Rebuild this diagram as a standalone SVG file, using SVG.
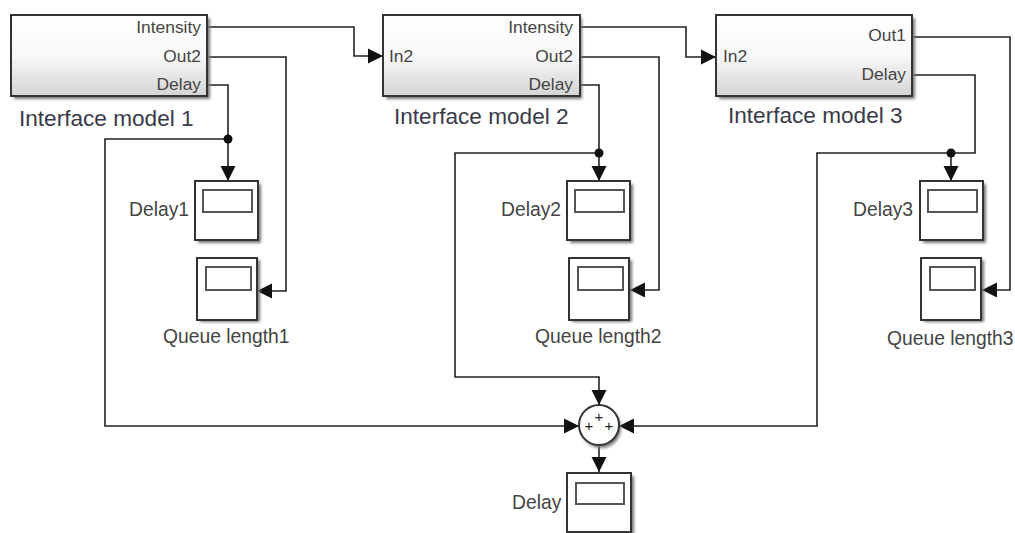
<svg xmlns="http://www.w3.org/2000/svg" width="1015" height="533" viewBox="0 0 1015 533">
<defs>
<linearGradient id="g" x1="0" y1="0" x2="0" y2="1"><stop offset="0" stop-color="#ffffff"/><stop offset="0.5" stop-color="#f8f8f8"/><stop offset="1" stop-color="#d4d4d4"/></linearGradient>
<filter id="s" x="-20%" y="-20%" width="140%" height="140%"><feGaussianBlur stdDeviation="1.8"/></filter>
<marker id="a" markerUnits="userSpaceOnUse" markerWidth="16" markerHeight="16" refX="15" refY="8" orient="auto"><path d="M0 0.5L15 8L0 15.5Z" fill="#111"/></marker>
</defs>
<style>
text{font-family:"Liberation Sans",Arial,sans-serif;fill:#444}
.p{font-size:17.4px;text-anchor:end}
.i{font-size:17.4px}
.t{font-size:22.6px;fill:#3a3a4a}
.l{font-size:19.3px}
.c{fill:none;stroke:#222;stroke-width:1.6}
.b{fill:url(#g);stroke:#333;stroke-width:2}
.sh{fill:#777;filter:url(#s)}
.sc{fill:#fff;stroke:#333;stroke-width:2}
.w{fill:#fff;stroke:#555;stroke-width:2}
.plus{font-size:15px;text-anchor:middle;fill:#222}
</style>
<rect width="1015" height="533" fill="#fff"/>
<g id="connectors">
<path class="c" d="M208 27H354V56H383" marker-end="url(#a)"/>
<path class="c" d="M208 57H286V291H257" marker-end="url(#a)"/>
<path class="c" d="M208 85H228V181" marker-end="url(#a)"/>
<path class="c" d="M228 139H105V426H579" marker-end="url(#a)"/>
<path class="c" d="M581 27H686V57H716" marker-end="url(#a)"/>
<path class="c" d="M581 57H659V290H630" marker-end="url(#a)"/>
<path class="c" d="M581 85H599V181" marker-end="url(#a)"/>
<path class="c" d="M599 153H455V377H599V405" marker-end="url(#a)"/>
<path class="c" d="M913 37H1010V290H982" marker-end="url(#a)"/>
<path class="c" d="M913 75H975V153H951V181" marker-end="url(#a)"/>
<path class="c" d="M951 153H817V426H619" marker-end="url(#a)"/>
<path class="c" d="M599 446V472" marker-end="url(#a)"/>
<circle cx="228" cy="139" r="4.5" fill="#111"/>
<circle cx="599" cy="153" r="4.5" fill="#111"/>
<circle cx="951" cy="153" r="4.5" fill="#111"/>
</g>
<g id="model1"><rect class="sh" x="14" y="18" width="196" height="81"/><rect class="b" x="11" y="15" width="196" height="81"/>
<text class="p" x="201" y="33">Intensity</text><text class="p" x="201" y="62">Out2</text><text class="p" x="201" y="90">Delay</text>
<text class="t" x="19" y="126">Interface model 1</text></g>
<g id="model2"><rect class="sh" x="386" y="18" width="196" height="81"/><rect class="b" x="383" y="15" width="197" height="81"/>
<text class="i" x="389" y="62">In2</text><text class="p" x="573" y="33">Intensity</text><text class="p" x="573" y="62">Out2</text><text class="p" x="573" y="90">Delay</text>
<text class="t" x="394" y="124">Interface model 2</text></g>
<g id="model3"><rect class="sh" x="719" y="18" width="196" height="81"/><rect class="b" x="716" y="15" width="196" height="81"/>
<text class="i" x="723" y="62">In2</text><text class="p" x="906" y="41">Out1</text><text class="p" x="906" y="80">Delay</text>
<text class="t" x="728" y="123">Interface model 3</text></g>
<g id="delay1"><rect class="sh" x="198" y="184" width="63" height="59"/><rect class="sc" x="195" y="181" width="63" height="59"/><rect class="w" x="203" y="190" width="49" height="22"/><text class="l" x="129" y="216">Delay1</text></g>
<g id="queue1"><rect class="sh" x="200" y="260" width="60" height="62"/><rect class="sc" x="197" y="258" width="60" height="62"/><rect class="w" x="206" y="267" width="45" height="23"/><text class="l" x="163" y="343">Queue length1</text></g>
<g id="delay2"><rect class="sh" x="570" y="184" width="63" height="59"/><rect class="sc" x="567" y="181" width="63" height="59"/><rect class="w" x="575" y="190" width="49" height="22"/><text class="l" x="501" y="216">Delay2</text></g>
<g id="queue2"><rect class="sh" x="572" y="260" width="60" height="62"/><rect class="sc" x="569" y="258" width="60" height="62"/><rect class="w" x="578" y="267" width="45" height="23"/><text class="l" x="535" y="343">Queue length2</text></g>
<g id="delay3"><rect class="sh" x="923" y="184" width="63" height="59"/><rect class="sc" x="920" y="181" width="63" height="59"/><rect class="w" x="928" y="190" width="49" height="22"/><text class="l" x="853" y="216">Delay3</text></g>
<g id="queue3"><rect class="sh" x="924" y="260" width="60" height="62"/><rect class="sc" x="921" y="258" width="60" height="62"/><rect class="w" x="930" y="267" width="45" height="23"/><text class="l" x="887" y="345">Queue length3</text></g>
<g id="sum"><circle class="sh" cx="601" cy="428" r="20"/><circle class="sc" cx="599" cy="425" r="20"/>
<text class="plus" x="599" y="422">+</text><text class="plus" x="589" y="431">+</text><text class="plus" x="609" y="431">+</text></g>
<g id="delay"><rect class="sh" x="570" y="476" width="64" height="59"/><rect class="sc" x="567" y="473" width="64" height="59"/><rect class="w" x="576" y="483" width="48" height="21"/><text class="l" x="512" y="509">Delay</text></g>
</svg>
